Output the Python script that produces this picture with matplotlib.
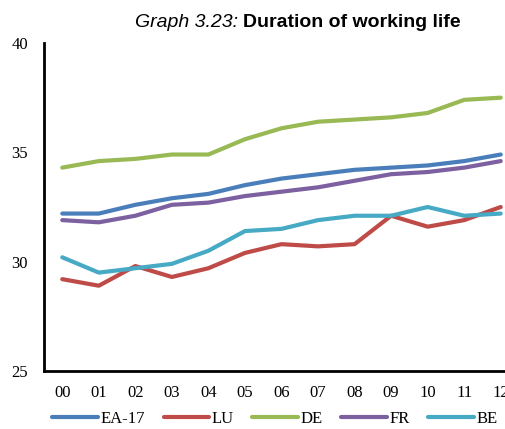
import matplotlib
matplotlib.use("Agg")
import matplotlib.pyplot as plt

years = ["00", "01", "02", "03", "04", "05", "06", "07", "08", "09", "10", "11", "12"]
ea17 = [32.2, 32.2, 32.6, 32.9, 33.1, 33.5, 33.8, 34.0, 34.2, 34.3, 34.4, 34.6, 34.9]
lu = [29.2, 28.9, 29.8, 29.3, 29.7, 30.4, 30.8, 30.7, 30.8, 32.1, 31.6, 31.9, 32.5]
de = [34.3, 34.6, 34.7, 34.9, 34.9, 35.6, 36.1, 36.4, 36.5, 36.6, 36.8, 37.4, 37.5]
fr = [31.9, 31.8, 32.1, 32.6, 32.7, 33.0, 33.2, 33.4, 33.7, 34.0, 34.1, 34.3, 34.6]
be = [30.2, 29.5, 29.7, 29.9, 30.5, 31.4, 31.5, 31.9, 32.1, 32.1, 32.5, 32.1, 32.2]

series = [("EA-17", ea17, "#4A7EBB"),
          ("LU", lu, "#BE4B48"),
          ("DE", de, "#98B954"),
          ("FR", fr, "#7D60A0"),
          ("BE", be, "#46AAC5")]

fig = plt.figure(figsize=(5.05, 4.29), dpi=100)
ax = fig.add_axes([44/505, 58/429, 475/505, 328/429])

x = list(range(len(years)))
for name, vals, col in series:
    ax.plot(x, vals, color=col, lw=3, solid_capstyle="round", solid_joinstyle="round", label=name)

ax.set_xlim(-0.5, 12.5)
ax.set_ylim(25, 40)
ax.set_yticks([25, 30, 35, 40])
ax.set_xticks(x)
ax.set_xticklabels(years)
for lab in ax.get_xticklabels() + ax.get_yticklabels():
    lab.set_fontfamily("Liberation Serif")
    lab.set_fontsize(12)
ax.tick_params(axis="y", length=0, pad=11.5)
ax.tick_params(axis="x", length=0, pad=10)
ax.spines["top"].set_visible(False)
ax.spines["right"].set_visible(False)
ax.spines["left"].set_linewidth(2)
ax.spines["bottom"].set_linewidth(2)

# title in two parts: italic label + bold text
fig.text(238/505, 1 - 27/429, "Graph 3.23:", ha="right", va="baseline",
         fontsize=14, style="italic", family="Liberation Sans")
fig.text(243/505, 1 - 27/429, "Duration of working life", ha="left", va="baseline",
         fontsize=14, weight="bold", family="Liberation Sans")

fig.legend(loc="center", bbox_to_anchor=(275/505, 10/429), ncol=5, frameon=False,
           prop={"family": "Liberation Serif", "size": 12},
           handlelength=2.75, handletextpad=0.15, columnspacing=1.1,
           borderpad=0, borderaxespad=0)

fig.savefig("out.png", dpi=100)
